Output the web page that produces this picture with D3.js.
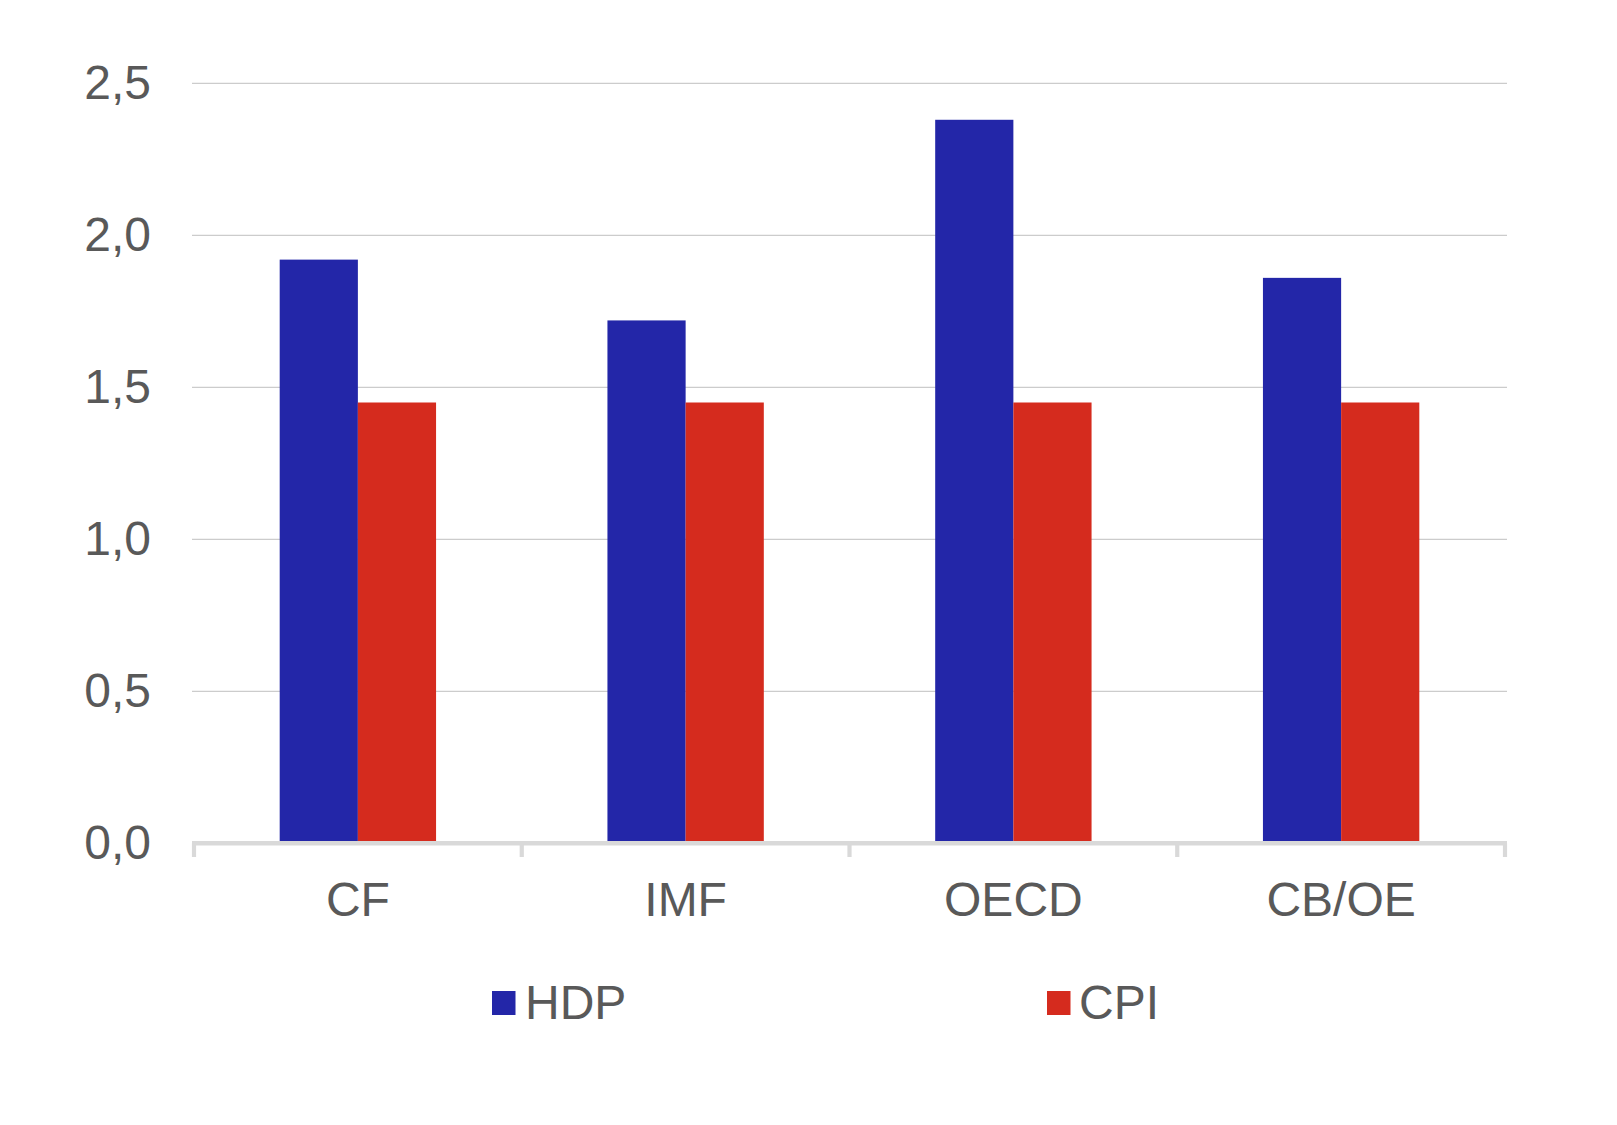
<!DOCTYPE html>
<html>
<head>
<meta charset="utf-8">
<script src="https://cdn.jsdelivr.net/npm/d3@7"></script>
<style>
  html, body { margin: 0; padding: 0; background: #fff; }
  svg { display: block; }
  text { font-family: "Liberation Sans", Arial, Helvetica, sans-serif; fill: #595959; }
</style>
</head>
<body>
<svg id="chart" width="1617" height="1125"></svg>
<script>
// ---- data ----
const categories = ["CF", "IMF", "OECD", "CB/OE"];
const seriesNames = ["HDP", "CPI"];
const hdpValues = [1.92, 1.72, 2.38, 1.86];
const cpiValues = [1.45, 1.45, 1.45, 1.45];
const yTicks = [0, 0.5, 1.0, 1.5, 2.0, 2.5];
const colors = ["#2326a8", "#d52b1e"];

const seriesValues = [hdpValues, cpiValues];
const data = categories.map((c, i) => ({
  cat: c,
  values: seriesNames.map((s, j) => ({ series: s, value: seriesValues[j][i] }))
}));

// ---- layout ----
const svg = d3.select("#chart");
const left = 194, right = 1505;
const y0 = 843.3, yTop = 843.3 - 2.5 * 304;

const x0 = d3.scaleBand().domain(categories).range([left, right]).paddingInner(0).paddingOuter(0);
const x1 = d3.scaleBand().domain(seriesNames).range([0, x0.bandwidth()]).paddingInner(0).paddingOuter(1.096);
const y = d3.scaleLinear().domain([0, 2.5]).range([y0, yTop]);
const fmt = v => d3.format(".1f")(v).replace(".", ",");

// gridlines
svg.append("g")
  .selectAll("line")
  .data(yTicks.filter(t => t > 0))
  .join("line")
  .attr("x1", 192).attr("x2", 1507)
  .attr("y1", d => y(d)).attr("y2", d => y(d))
  .attr("stroke", "#cccccc")
  .attr("stroke-width", 1.2);

// y tick labels
svg.append("g")
  .selectAll("text")
  .data(yTicks)
  .join("text")
  .attr("x", 151)
  .attr("y", d => y(d) + 15.5)
  .attr("text-anchor", "end")
  .attr("font-size", 48)
  .text(d => fmt(d));

// bars
const groups = svg.append("g")
  .selectAll("g")
  .data(data)
  .join("g")
  .attr("transform", d => `translate(${x0(d.cat)},0)`);

groups.selectAll("rect")
  .data(d => d.values)
  .join("rect")
  .attr("x", d => x1(d.series))
  .attr("width", x1.bandwidth())
  .attr("y", d => y(d.value))
  .attr("height", d => y0 - y(d.value))
  .attr("fill", (d, i) => colors[i]);

// x axis (baseline + ticks)
const tickXs = categories.map(c => x0(c)).concat([right]);
svg.append("line")
  .attr("x1", 192).attr("x2", 1507)
  .attr("y1", y0).attr("y2", y0)
  .attr("stroke", "#d9d9d9")
  .attr("stroke-width", 4.6);
svg.append("g")
  .selectAll("line")
  .data(tickXs)
  .join("line")
  .attr("x1", d => d).attr("x2", d => d)
  .attr("y1", y0).attr("y2", 857)
  .attr("stroke", "#d9d9d9")
  .attr("stroke-width", 4.2);

// category labels
svg.append("g")
  .selectAll("text")
  .data(categories)
  .join("text")
  .attr("x", d => x0(d) + x0.bandwidth() / 2)
  .attr("y", 916)
  .attr("text-anchor", "middle")
  .attr("font-size", 48)
  .text(d => d);

// legend
const legendPos = [{ sx: 492, tx: 525 }, { sx: 1047, tx: 1079 }];
const legend = svg.append("g")
  .selectAll("g")
  .data(seriesNames)
  .join("g");
legend.append("rect")
  .attr("x", (d, i) => legendPos[i].sx)
  .attr("y", 991)
  .attr("width", 23.5)
  .attr("height", 24)
  .attr("fill", (d, i) => colors[i]);
legend.append("text")
  .attr("x", (d, i) => legendPos[i].tx)
  .attr("y", 1019)
  .attr("font-size", 48)
  .text(d => d);
</script>
</body>
</html>
